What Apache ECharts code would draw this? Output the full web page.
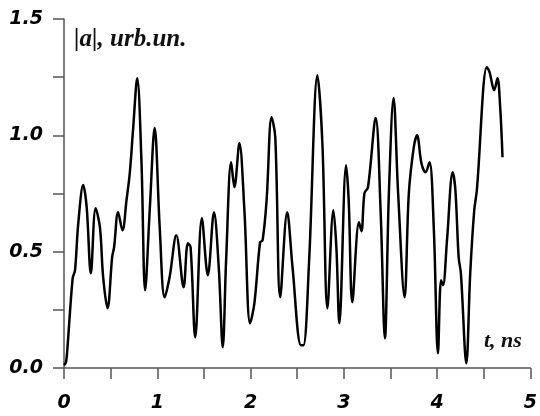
<!DOCTYPE html>
<html>
<head>
<meta charset="utf-8">
<script src="https://cdn.jsdelivr.net/npm/echarts@6/dist/echarts.min.js"></script>
<style>
  html, body { margin: 0; padding: 0; background: #fff; }
  #main { width: 540px; height: 416px; }
</style>
</head>
<body>
<div id="main"></div>
<script>
// time, ns
var tList = [0, 0.021, 0.035, 0.093, 0.118, 0.153, 0.206, 0.243, 0.288, 0.339, 0.385, 0.420, 0.467, 0.516, 0.537, 0.580, 0.627, 0.670, 0.705, 0.740,
  0.785, 0.830, 0.870, 0.919, 0.972, 1.026, 1.079, 1.132, 1.204, 1.282, 1.328, 1.357, 1.407, 1.478, 1.542, 1.608, 1.659, 1.702, 1.738, 1.792,
  1.827, 1.880, 1.934, 1.995, 2.041, 2.102, 2.129, 2.172, 2.225, 2.265, 2.318, 2.393, 2.450, 2.540, 2.567, 2.628, 2.717, 2.770, 2.824, 2.888,
  2.920, 2.952, 3.024, 3.052, 3.091, 3.162, 3.189, 3.221, 3.259, 3.341, 3.394, 3.440, 3.483, 3.533, 3.582, 3.651, 3.697, 3.750, 3.785, 3.832,
  3.875, 3.918, 3.964, 4.009, 4.042, 4.063, 4.106, 4.167, 4.196, 4.231, 4.255, 4.313, 4.355, 4.398, 4.426, 4.533, 4.562, 4.612, 4.647, 4.676, 4.701];
// |a|, urb.un.
var aList = [0.012, 0.025, 0.076, 0.386, 0.420, 0.622, 0.786, 0.691, 0.407, 0.687, 0.605, 0.390, 0.257, 0.476, 0.519, 0.669, 0.592, 0.721, 0.837, 1.022,
  1.245, 0.893, 0.334, 0.678, 1.031, 0.605, 0.304, 0.390, 0.571, 0.347, 0.536, 0.519, 0.132, 0.644, 0.399, 0.669, 0.433, 0.089, 0.463, 0.884,
  0.777, 0.966, 0.678, 0.192, 0.278, 0.540, 0.549, 0.721, 1.078, 0.992, 0.304, 0.669, 0.433, 0.098, 0.098, 0.463, 1.258, 0.966, 0.257, 0.678,
  0.519, 0.192, 0.871, 0.721, 0.283, 0.626, 0.588, 0.751, 0.777, 1.074, 0.678, 0.128, 0.751, 1.160, 0.751, 0.304, 0.751, 0.949, 1.000, 0.880,
  0.841, 0.884, 0.605, 0.063, 0.377, 0.356, 0.549, 0.841, 0.764, 0.476, 0.407, 0.020, 0.407, 0.678, 0.764, 1.293, 1.272, 1.194, 1.245, 1.121, 0.906];

var xLabels = ['0', '1', '2', '3', '4', '5'];
var yLabels = ['0.0', '0.5', '1.0', '1.5'];

var points = [];
for (var i = 0; i < tList.length; i++) {
    points.push([tList[i], aList[i]]);
}

var chart = echarts.init(document.getElementById('main'));
var labelFont = {
    color: '#000',
    fontFamily: 'DejaVu Sans, sans-serif',
    fontWeight: 'bold',
    fontStyle: 'italic',
    fontSize: 19
};

var option = {
    animation: false,
    grid: { left: 64, right: 8, top: 19, bottom: 48 },
    xAxis: {
        type: 'value',
        min: 0, max: 5, interval: 0.5,
        axisLine: { lineStyle: { color: '#555', width: 1.5 } },
        axisTick: { inside: false, length: 11, lineStyle: { color: '#555', width: 1.5 } },
        splitLine: { show: false },
        axisLabel: Object.assign({
            margin: 26,
            formatter: function (v) {
                return Math.abs(v - Math.round(v)) < 1e-6 ? xLabels[Math.round(v)] : '';
            }
        }, labelFont)
    },
    yAxis: {
        type: 'value',
        min: 0, max: 1.5, interval: 0.25,
        axisLine: { show: true, lineStyle: { color: '#555', width: 1.5 } },
        axisTick: { show: true, length: 11, lineStyle: { color: '#555', width: 1.5 } },
        splitLine: { show: false },
        axisLabel: Object.assign({
            margin: 21,
            formatter: function (v) {
                var k = Math.round(v / 0.5);
                return Math.abs(v - k * 0.5) < 1e-6 ? yLabels[k] : '';
            }
        }, labelFont)
    },
    graphic: [
        {
            type: 'text', left: 74, top: 27,
            style: {
                text: '|a|, urb.un.',
                font: 'italic bold 25px "Liberation Serif", "DejaVu Serif", serif',
                fill: '#111'
            }
        },
        {
            type: 'text', left: 484, top: 330,
            style: {
                text: 't, ns',
                font: 'italic bold 22px "Liberation Serif", "DejaVu Serif", serif',
                fill: '#111'
            }
        }
    ],
    series: [{
        type: 'line',
        data: points,
        smooth: 0.35,
        symbol: 'none',
        lineStyle: { color: '#000', width: 2.5 }
    }]
};
chart.setOption(option);
</script>
</body>
</html>
